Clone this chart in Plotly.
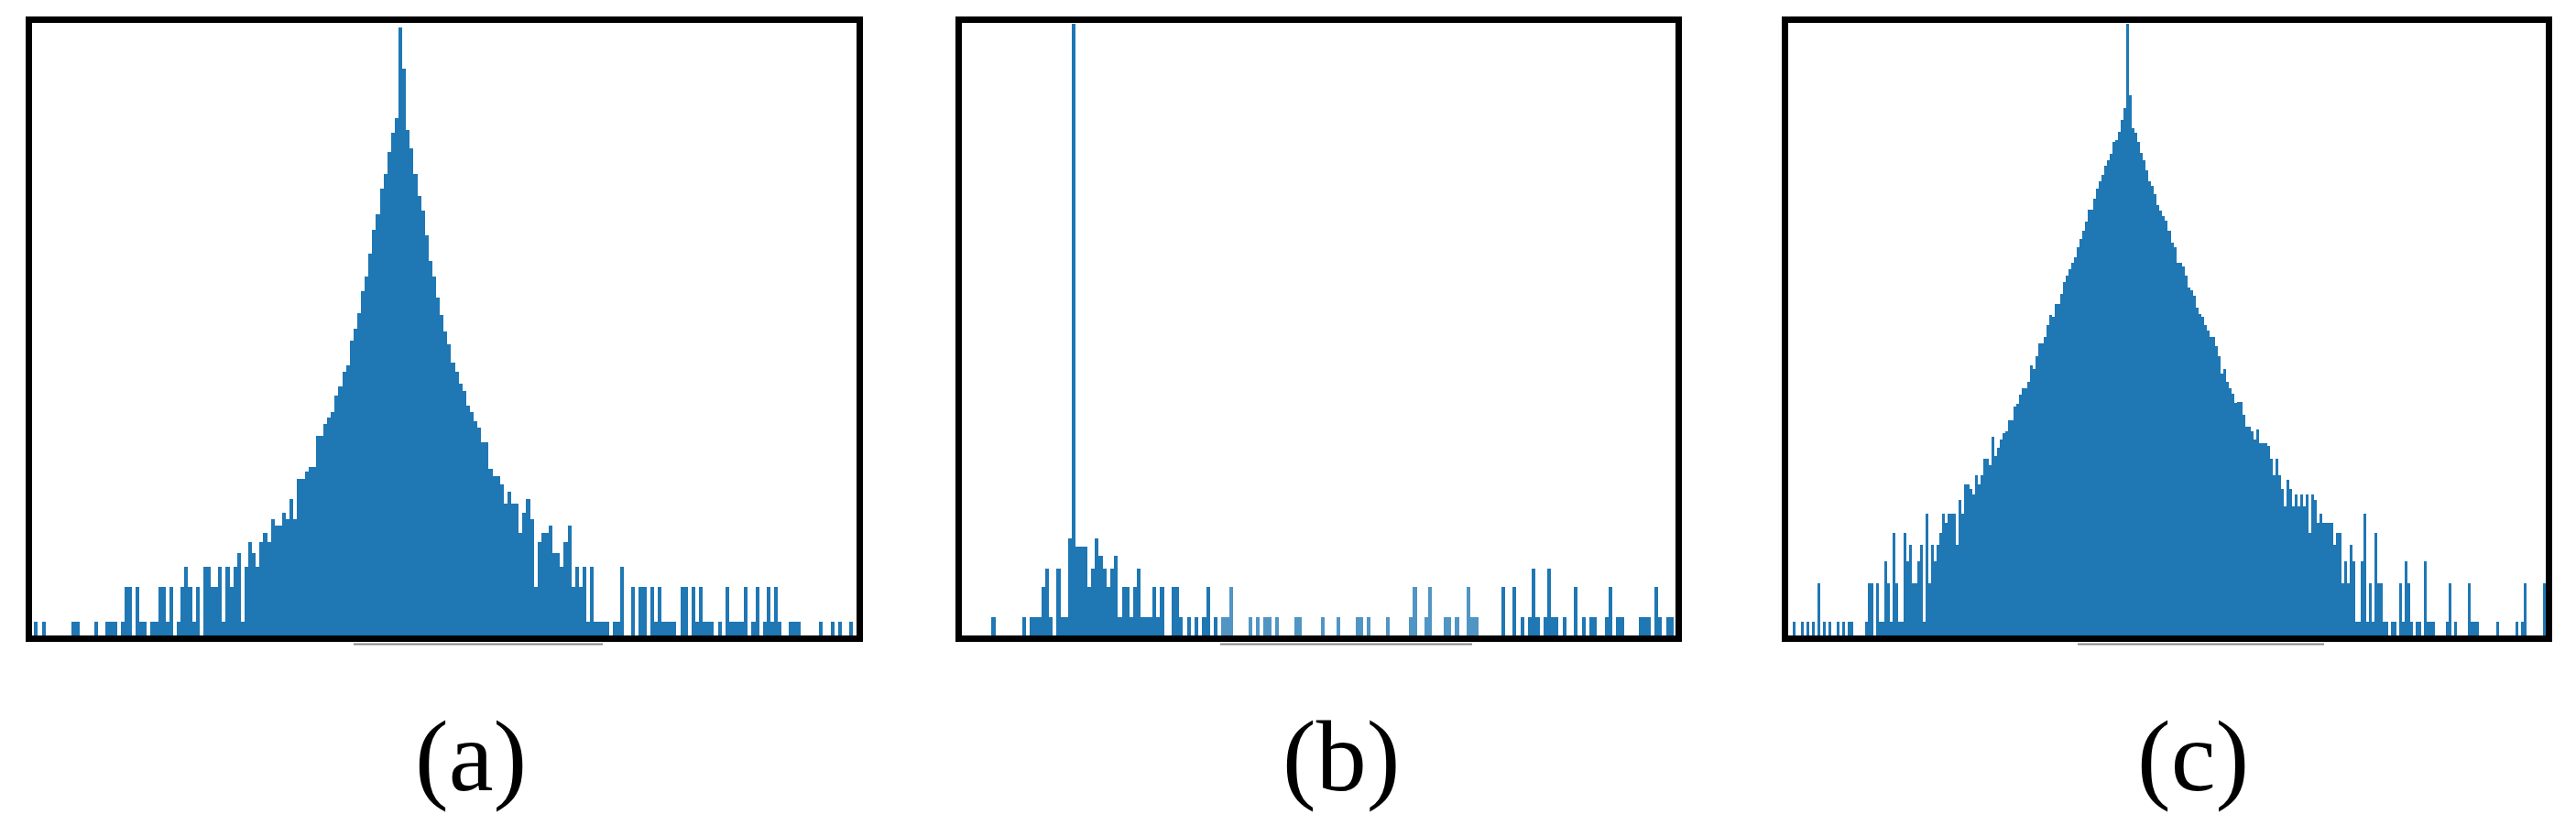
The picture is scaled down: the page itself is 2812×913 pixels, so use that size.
import plotly.graph_objects as go

# ---------------- data (histogram counts per bin, log-scale y) ----------------
counts_a = [
    1, 0, 1, 0, 0, 0, 0, 0, 0, 0, 1, 1, 0, 0, 0, 0, 1, 0, 0, 1,
    1, 1, 0, 1, 2, 2, 0, 2, 1, 1, 0, 1, 1, 2, 2, 1, 2, 0, 1, 2,
    3, 2, 1, 2, 0, 3, 3, 2, 2, 3, 1, 3, 2, 3, 4, 1, 3, 5, 4, 3,
    5, 6, 5, 8, 7, 7, 9, 8, 12, 8, 18, 18, 21, 23, 23, 43, 43, 55, 63, 70,
    97, 117, 159, 180, 296, 380, 522, 817, 1100, 1730, 2840, 3900, 6520, 8800, 13800, 20200, 27500, 171000, 74500, 21400,
    14700, 8800, 5660, 4170, 2530, 1510, 1100, 716, 497, 358, 277, 192, 159, 124, 108, 80, 70, 58, 51, 38,
    38, 22, 19, 19, 16, 11, 14, 11, 11, 6, 9, 12, 8, 2, 5, 6, 6, 7, 4, 4,
    3, 5, 7, 2, 3, 2, 3, 1, 3, 1, 1, 1, 1, 0, 1, 1, 3, 0, 0, 2,
    0, 2, 2, 0, 2, 1, 2, 1, 1, 1, 1, 0, 2, 2, 0, 2, 1, 2, 1, 1,
    1, 0, 1, 0, 2, 1, 1, 1, 1, 2, 0, 1, 2, 0, 1, 2, 1, 2, 1, 0,
    0, 1, 1, 1, 0, 0, 0, 0, 0, 1, 0, 0, 1, 0, 1, 0, 0, 1,
]

counts_b = [
    1, 0, 0, 0, 0, 0, 0, 0, 1, 0, 1, 1, 1, 2, 3, 1, 0, 3, 1, 1,
    6, 720000, 5, 5, 5, 2, 3, 6, 4, 3, 2, 3, 4, 1, 2, 2, 1, 2, 3, 1,
    1, 1, 2, 1, 2, 0, 0, 2, 2, 1, 0, 1, 0, 1, 0, 1, 2, 0, 1, 0,
    1, 1, 2, 0, 0, 0, 0, 1, 0, 1, 0, 1, 1, 0, 1, 0, 0, 0, 0, 1,
    1, 0, 0, 0, 0, 0, 1, 0, 0, 0, 1, 0, 0, 0, 0, 1, 1, 0, 1, 0,
    0, 0, 0, 1, 0, 0, 0, 0, 0, 1, 2, 0, 0, 1, 2, 0, 0, 0, 1, 1,
    0, 1, 0, 0, 2, 1, 1, 0, 0, 0, 0, 0, 0, 2, 0, 0, 2, 0, 1, 0,
    1, 3, 1, 0, 1, 3, 1, 1, 0, 1, 0, 0, 2, 0, 1, 0, 1, 1, 0, 0,
    1, 2, 0, 1, 1, 0, 0, 0, 0, 1, 1, 1, 0, 2, 1, 0, 1, 1,
]

counts_c = [
    1, 0, 0, 1, 0, 1, 0, 1, 0, 2, 0, 1, 0, 1, 0, 0, 1, 0, 1, 0,
    1, 1, 0, 0, 0, 0, 1, 2, 2, 0, 2, 1, 1, 3, 2, 1, 5, 2, 1, 1,
    5, 3, 4, 2, 2, 3, 4, 1, 7, 2, 4, 3, 4, 5, 7, 6, 7, 7, 7, 4,
    9, 7, 12, 12, 11, 10, 14, 12, 14, 19, 19, 17, 28, 20, 23, 27, 30, 31, 38, 38,
    49, 51, 60, 68, 68, 76, 102, 96, 120, 153, 153, 171, 213, 252, 245, 309, 309, 372, 463, 517,
    576, 645, 720, 867, 1005, 1165, 1370, 1685, 1685, 2080, 2490, 2820, 3150, 3740, 4150, 4670, 5700, 5910, 6840, 8540,
    10650, 48500, 13300, 7370, 6740, 5700, 4740, 4150, 3470, 2820, 2620, 2230, 1840, 1660, 1500, 1400, 1165, 935, 855, 645,
    645, 608, 517, 415, 399, 357, 291, 256, 244, 213, 191, 171, 171, 145, 120, 88, 96, 76, 68, 61,
    52, 53, 53, 42, 34, 34, 31, 27, 32, 25, 25, 25, 24, 19, 14, 19, 14, 11, 8, 13,
    11, 8, 10, 8, 10, 8, 10, 5, 10, 9, 6, 7, 6, 6, 6, 6, 4, 5, 5, 2,
    3, 2, 4, 3, 1, 1, 3, 7, 1, 2, 1, 5, 2, 2, 1, 1, 0, 1, 1, 0,
    2, 1, 3, 2, 1, 0, 1, 1, 0, 3, 1, 1, 1, 0, 0, 0, 0, 1, 2, 0,
    1, 0, 0, 0, 0, 2, 1, 1, 1, 0, 0, 0, 0, 0, 0, 1, 0, 0, 0, 0,
    0, 0, 1, 0, 1, 2, 0, 0, 0, 0, 0, 0, 2,
]

panel_labels = ["(a)", "(b)", "(c)"]

# ---------------- layout geometry ----------------
PAGE_MARGIN = 8            # default body margin of the html page
W, H = 2812 - 2 * PAGE_MARGIN, 913 - 2 * PAGE_MARGIN
BAR = "#1f77b4"
FADED = "rgba(31,119,180,0.78)"


def px(v):
    return v - PAGE_MARGIN


# inner plot boxes in page pixels (left, right) and shared (top, bottom)
boxes = [(35, 935), (1050, 1829), (1952, 2779)]
top_px, bot_px = 25, 694
xranges = [(-0.56, 218.95), (-7.73, 178.5), (-1.76, 273.1)]
yranges = [(-0.125, 5.275), (-0.18, 5.863), (-0.105, 4.691)]
label_x = [514, 1464, 2394]
label_y = 826
gray_strips = [(386, 658), (1332, 1607), (2268, 2537)]

fig = go.Figure()

datasets = [counts_a, counts_b, counts_c]
for i, counts in enumerate(datasets):
    xs = [k + 0.5 for k in range(len(counts))]
    ys = [c if c > 0 else None for c in counts]
    colors = [BAR] * len(counts)
    if i == 1:
        for k in range(60, 127):
            colors[k] = FADED
    suffix = "" if i == 0 else str(i + 1)
    fig.add_trace(go.Bar(
        x=xs, y=ys, width=1.0,
        marker=dict(color=colors, line=dict(width=0)),
        xaxis="x" + suffix, yaxis="y" + suffix,
        showlegend=False, hoverinfo="skip",
    ))

layout = dict(
    width=W, height=H,
    margin=dict(l=0, r=0, t=0, b=0),
    paper_bgcolor="white", plot_bgcolor="white",
    bargap=0, barmode="overlay",
    showlegend=False,
)
for i in range(3):
    suffix = "" if i == 0 else str(i + 1)
    l, r = boxes[i]
    axcommon = dict(showticklabels=False, ticks="", showgrid=False, zeroline=False,
                    showline=True, linecolor="black", linewidth=7, mirror=True,
                    fixedrange=True)
    layout["xaxis" + suffix] = dict(domain=[px(l) / W, px(r) / W], range=list(xranges[i]),
                                    anchor="y" + suffix, **axcommon)
    layout["yaxis" + suffix] = dict(domain=[(H - px(bot_px)) / H, (H - px(top_px)) / H],
                                    type="log", range=list(yranges[i]),
                                    anchor="x" + suffix, **axcommon)
fig.update_layout(**layout)

for i, lab in enumerate(panel_labels):
    fig.add_annotation(text=lab, x=px(label_x[i]) / W, y=(H - px(label_y)) / H,
                       xref="paper", yref="paper", showarrow=False,
                       xanchor="center", yanchor="middle",
                       font=dict(family="Liberation Serif, Times New Roman, serif",
                                 size=110, color="black"))

for (x0, x1) in gray_strips:
    fig.add_shape(type="line", xref="paper", yref="paper",
                  x0=px(x0) / W, x1=px(x1) / W,
                  y0=(H - px(703.5)) / H, y1=(H - px(703.5)) / H,
                  line=dict(color="#8a8a8a", width=2))

fig.write_html("out.html")
